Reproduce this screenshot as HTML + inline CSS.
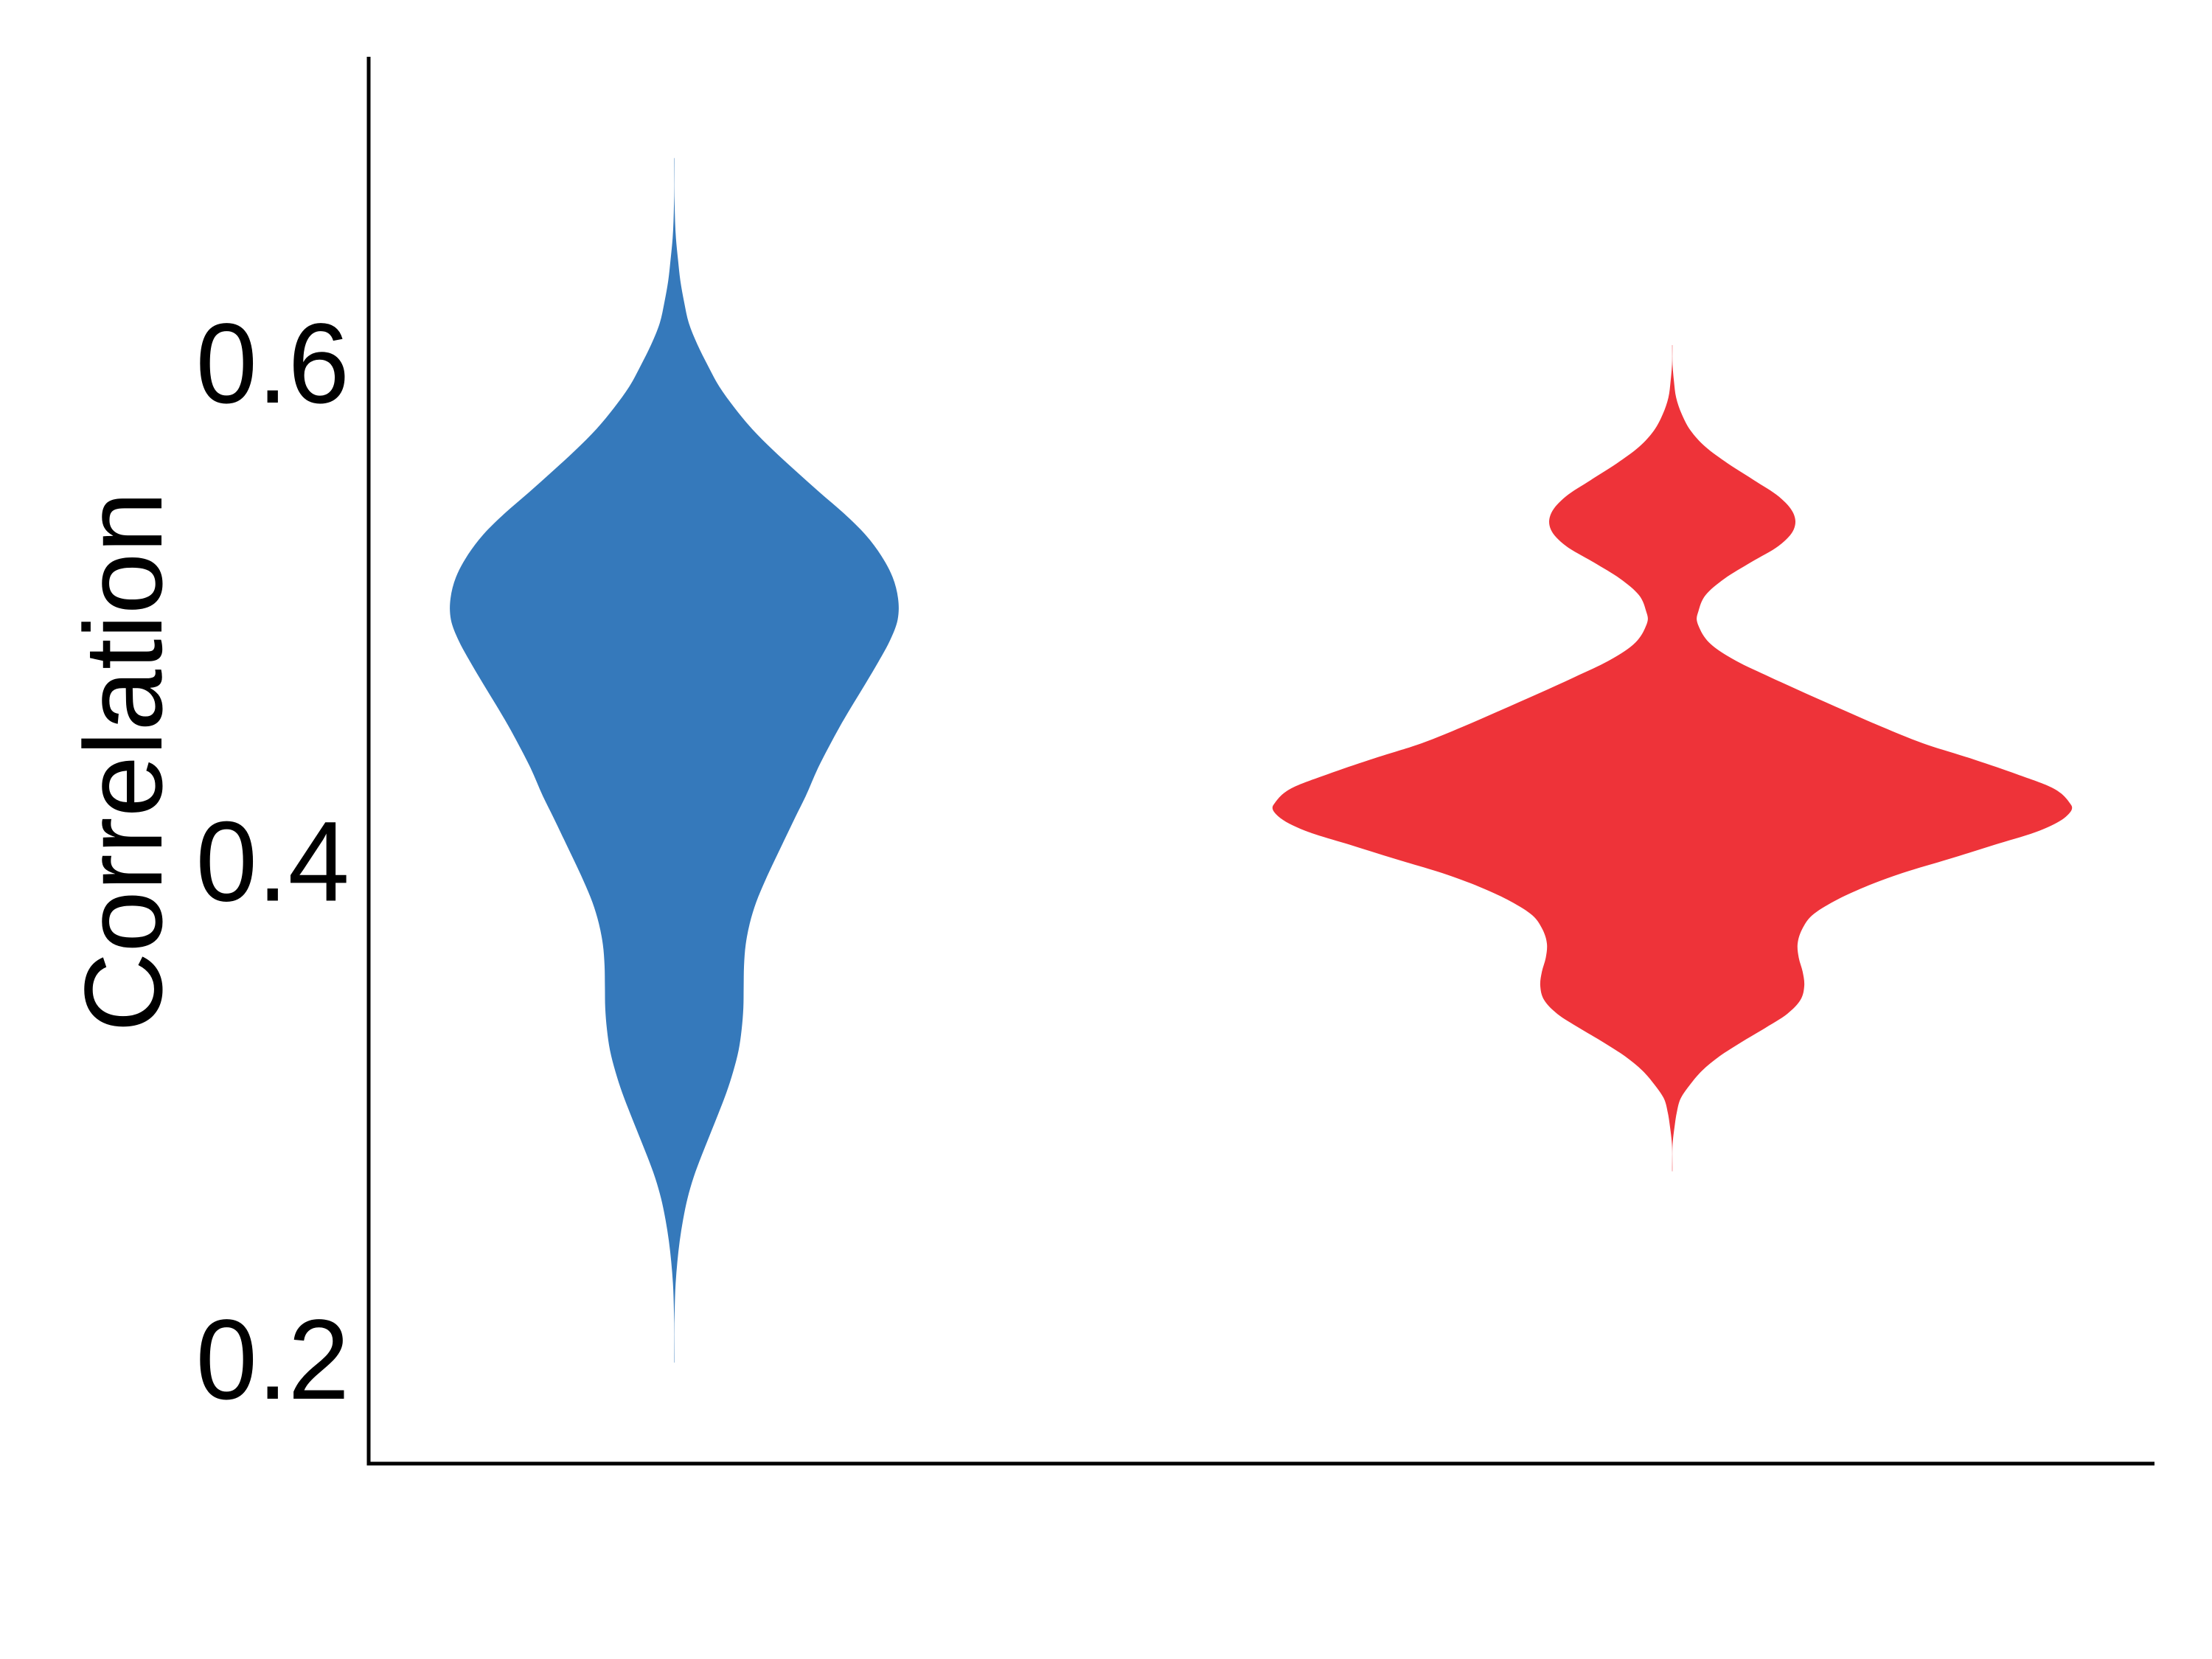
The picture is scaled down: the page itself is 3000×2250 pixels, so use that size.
<!DOCTYPE html>
<html lang="en">
<head>
<meta charset="utf-8">
<title>Correlation violin plot</title>
<style>
html,body{margin:0;padding:0;background:#fff;width:3000px;height:2250px;overflow:hidden}
svg{display:block}
text{font-family:"Liberation Sans",sans-serif;fill:#000}
</style>
</head>
<body>
<svg id="chart" xmlns="http://www.w3.org/2000/svg" width="3000" height="2250" viewBox="0 0 3000 2250">
  <rect x="0" y="0" width="3000" height="2250" fill="#fff"/>
  <g id="violins"></g>
  <g id="ticks"></g>
  <line x1="500" y1="77" x2="500" y2="1987.5" stroke="#000" stroke-width="5"/>
  <line x1="497.5" y1="1985" x2="2922" y2="1985" stroke="#000" stroke-width="5"/>
  <text transform="translate(219,1400) rotate(-90)" font-size="150">Correlation</text>
</svg>
<script>
const tickValues = [0.2, 0.4, 0.6];
const tickLabels = ["0.2", "0.4", "0.6"];

const blueCorrelation = [0.6825,0.6638,0.6502,0.6417,0.6332,0.6247,0.6162,0.6077,0.5992,0.5907,0.5822,0.5737,0.5652,0.5567,0.5482,0.5397,0.5312,0.5227,0.5142,0.5057,0.5014,0.4972,0.4887,0.4802,0.4717,0.4632,0.4547,0.4462,0.4377,0.4262,0.4177,0.4092,0.4007,0.3922,0.3837,0.3752,0.3667,0.3582,0.3497,0.3412,0.3327,0.3242,0.3157,0.3072,0.2987,0.2902,0.2817,0.2732,0.2647,0.2562,0.2477,0.2392,0.2307,0.2188,0.1988];
const blueDensity = [0.0004,0.0008,0.0042,0.0093,0.0152,0.0246,0.0364,0.0576,0.0839,0.1127,0.1508,0.1948,0.2473,0.3049,0.3642,0.4252,0.4786,0.5184,0.5463,0.5599,0.5616,0.5590,0.5395,0.5107,0.4794,0.4472,0.4159,0.3871,0.3600,0.3286,0.3024,0.2770,0.2516,0.2270,0.2050,0.1889,0.1787,0.1745,0.1736,0.1728,0.1686,0.1609,0.1474,0.1304,0.1101,0.0889,0.0678,0.0483,0.0330,0.0220,0.0136,0.0076,0.0034,0.0008,0.0004];

const redCorrelation = [0.6074,0.5995,0.5929,0.5863,0.5797,0.5731,0.5665,0.5599,0.5532,0.5466,0.5400,0.5367,0.5334,0.5268,0.5202,0.5136,0.5070,0.5004,0.4977,0.4938,0.4872,0.4806,0.4740,0.4674,0.4607,0.4541,0.4475,0.4409,0.4351,0.4294,0.4237,0.4221,0.4181,0.4124,0.4068,0.4011,0.3954,0.3898,0.3841,0.3784,0.3728,0.3671,0.3614,0.3558,0.3501,0.3444,0.3388,0.3331,0.3274,0.3218,0.3161,0.3104,0.3048,0.2991,0.2934,0.2878,0.2756];
const redDensity = [0.0004,0.0007,0.0042,0.0097,0.0236,0.0458,0.0833,0.1388,0.2040,0.2665,0.3026,0.3081,0.3040,0.2665,0.1971,0.1305,0.0833,0.0652,0.0611,0.0680,0.0972,0.1596,0.2457,0.3359,0.4303,0.5247,0.6274,0.7565,0.8620,0.9536,0.9938,1.0000,0.9855,0.9189,0.8078,0.6940,0.5760,0.4816,0.4053,0.3498,0.3248,0.3137,0.3165,0.3262,0.3303,0.3206,0.2873,0.2318,0.1721,0.1180,0.0750,0.0444,0.0208,0.0111,0.0056,0.0014,0.0004];

const svgNS = "http://www.w3.org/2000/svg";

function yScale(v) { return 493 + (0.6 - v) * 3377.5; }
function xScale(i) { return 914.5 + i * 1353.5; }
function widthScale(d) { return d * 542; }

function slopes(pts) {
  const n = pts.length;
  const m = new Array(n);
  for (let i = 0; i < n; i++) {
    if (i === 0) {
      m[i] = (pts[1][0] - pts[0][0]) / (pts[1][1] - pts[0][1]);
    } else if (i === n - 1) {
      m[i] = (pts[n - 1][0] - pts[n - 2][0]) / (pts[n - 1][1] - pts[n - 2][1]);
    } else {
      const h0 = pts[i][1] - pts[i - 1][1];
      const h1 = pts[i + 1][1] - pts[i][1];
      const s0 = (pts[i][0] - pts[i - 1][0]) / h0;
      const s1 = (pts[i + 1][0] - pts[i][0]) / h1;
      m[i] = (s0 * h1 + s1 * h0) / (h0 + h1);
    }
  }
  return m;
}

function splineThrough(pts) {
  const m = slopes(pts);
  let d = "";
  for (let i = 0; i < pts.length - 1; i++) {
    const h = (pts[i + 1][1] - pts[i][1]) / 3;
    const c1x = pts[i][0] + m[i] * h;
    const c1y = pts[i][1] + h;
    const c2x = pts[i + 1][0] - m[i + 1] * h;
    const c2y = pts[i + 1][1] - h;
    d += "C" + c1x.toFixed(2) + " " + c1y.toFixed(2) + " " + c2x.toFixed(2) + " " + c2y.toFixed(2) + " " + pts[i + 1][0].toFixed(2) + " " + pts[i + 1][1].toFixed(2);
  }
  return d;
}

function violinPath(index, correlation, density) {
  const cx = xScale(index);
  const right = correlation.map((v, i) => [cx + widthScale(density[i]), yScale(v)]);
  const left = correlation.map((v, i) => [cx - widthScale(density[i]), yScale(v)]).reverse();
  return "M" + right[0][0].toFixed(2) + " " + right[0][1].toFixed(2) + splineThrough(right) +
    "L" + left[0][0].toFixed(2) + " " + left[0][1].toFixed(2) + splineThrough(left) + "Z";
}

const violinGroup = document.getElementById("violins");

const blueViolin = document.createElementNS(svgNS, "path");


blueViolin.setAttribute("d", violinPath(0, blueCorrelation, blueDensity));
blueViolin.setAttribute("fill", "#3579BB");
violinGroup.appendChild(blueViolin);

const redViolin = document.createElementNS(svgNS, "path");


redViolin.setAttribute("d", violinPath(1, redCorrelation, redDensity));
redViolin.setAttribute("fill", "#EE3339");
violinGroup.appendChild(redViolin);

const tickGroup = document.getElementById("ticks");
tickValues.forEach((v, i) => {
  const label = document.createElementNS(svgNS, "text");
  
  
  label.setAttribute("transform", "translate(474," + (yScale(v) + 53) + ") scale(1,1.03)");
  label.setAttribute("text-anchor", "end");
  label.setAttribute("font-size", "150");
  label.textContent = tickLabels[i];
  tickGroup.appendChild(label);
});
</script>
</body>
</html>
